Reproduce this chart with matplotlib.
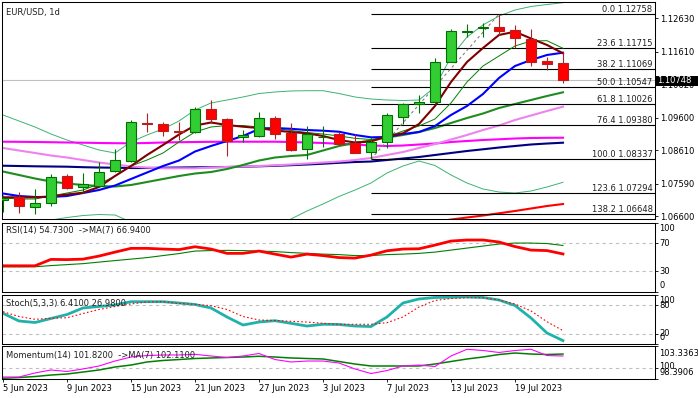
import numpy as np
import matplotlib
matplotlib.use("Agg")
import matplotlib.pyplot as plt
from matplotlib.patches import Rectangle

nan = float('nan')

# EUR/USD daily candles, 5 Jun - 24 Jul 2023
opens = [1.07088, 1.07171, 1.06884, 1.06988, 1.07820, 1.07494, 1.07524, 1.07973, 1.08287, 1.09446,
         1.09397, 1.09208, 1.09153, 1.09855, 1.09550, 1.09019, 1.09049, 1.09589, 1.09123, 1.08653,
         1.09010, 1.09101, 1.08836, 1.08561, 1.08848, 1.09611, 1.10007, 1.10068, 1.11306, 1.12203,
         1.12325, 1.12356, 1.12273, 1.11999, 1.11328, 1.11276]
highs = [1.07241, 1.07323, 1.07424, 1.07872, 1.07872, 1.07903, 1.08256, 1.08635, 1.09528, 1.09733,
         1.09476, 1.09476, 1.09934, 1.10138, 1.09580, 1.09223, 1.09772, 1.09650, 1.09446, 1.09345,
         1.09345, 1.09171, 1.09101, 1.09001, 1.09751, 1.10038, 1.10291, 1.11410, 1.12295, 1.12456,
         1.12487, 1.12758, 1.12426, 1.12304, 1.11459, 1.11611]
lows = [1.06722, 1.06683, 1.06661, 1.06914, 1.07424, 1.07293, 1.07494, 1.07933, 1.08256, 1.09171,
        1.09040, 1.08918, 1.09123, 1.09446, 1.08430, 1.08866, 1.09001, 1.08949, 1.08592, 1.08348,
        1.08696, 1.08766, 1.08513, 1.08337, 1.08665, 1.09406, 1.09751, 1.10038, 1.11300, 1.12051,
        1.12051, 1.12121, 1.11715, 1.11184, 1.11053, 1.10648]
closes = [1.07149, 1.06914, 1.06988, 1.07799, 1.07463, 1.07567, 1.07933, 1.08308, 1.09458, 1.09397,
          1.09202, 1.09171, 1.09855, 1.09550, 1.08897, 1.09062, 1.09598, 1.09110, 1.08613, 1.09101,
          1.09025, 1.08787, 1.08531, 1.08866, 1.09672, 1.10007, 1.10086, 1.11288, 1.12252, 1.12252,
          1.12356, 1.12252, 1.12020, 1.11288, 1.11227, 1.10748]

date_idx = [0, 4, 8, 12, 16, 20, 24, 28, 32]
date_labels = ['5 Jun 2023', '9 Jun 2023', '15 Jun 2023', '21 Jun 2023', '27 Jun 2023',
               '3 Jul 2023', '7 Jul 2023', '13 Jul 2023', '19 Jul 2023']

# moving averages / bands on the price chart
ma_maroon = [1.07171, 1.07171, 1.07171, 1.07195, 1.07256, 1.07311, 1.07485, 1.07820, 1.08125, 1.08461,
             1.08766, 1.09086, 1.09360, 1.09452, 1.09376, 1.09324, 1.09284, 1.09208, 1.09162, 1.09122,
             1.09040, 1.08918, 1.08842, 1.08872, 1.09040, 1.09122, 1.09406, 1.09955, 1.10687, 1.11297,
             1.11724, 1.12121, 1.12221, 1.12014, 1.11816, 1.11563]
ma_blue = [1.07286, 1.07210, 1.07180, 1.07180, 1.07210, 1.07302, 1.07393, 1.07530, 1.07729, 1.07927,
           1.08125, 1.08293, 1.08567, 1.08735, 1.08888, 1.09040, 1.09254, 1.09284, 1.09260, 1.09223,
           1.09202, 1.09171, 1.09071, 1.09000, 1.09010, 1.09101, 1.09162, 1.09345, 1.09681, 1.09955,
           1.10321, 1.10809, 1.11175, 1.11358, 1.11511, 1.11581]
ma_thin_green = [1.07149, 1.07119, 1.07119, 1.07210, 1.07302, 1.07393, 1.07576, 1.07820, 1.08125, 1.08308,
                 1.08522, 1.08857, 1.09162, 1.09315, 1.09360, 1.09360, 1.09315, 1.09269, 1.09208, 1.09147,
                 1.09101, 1.09040, 1.08970, 1.08933, 1.09010, 1.09193, 1.09345, 1.09559, 1.10047, 1.10687,
                 1.11175, 1.11480, 1.11785, 1.11938, 1.11947, 1.11715]
bb_mid = [1.07957, 1.07851, 1.07744, 1.07652, 1.07591, 1.07546, 1.07515, 1.07500, 1.07546, 1.07637,
          1.07729, 1.07820, 1.07896, 1.07942, 1.08034, 1.08156, 1.08293, 1.08384, 1.08430, 1.08461,
          1.08598, 1.08735, 1.08827, 1.08903, 1.08994, 1.09071, 1.09162, 1.09284, 1.09437, 1.09589,
          1.09726, 1.09894, 1.10016, 1.10138, 1.10260, 1.10373]
bb_upper = [1.09681, 1.09498, 1.09315, 1.09101, 1.08918, 1.08766, 1.08613, 1.08522, 1.08857, 1.09071,
            1.09254, 1.09498, 1.09833, 1.10047, 1.10138, 1.10230, 1.10336, 1.10382, 1.10413, 1.10422,
            1.10422, 1.10336, 1.10230, 1.10169, 1.10138, 1.10123, 1.10138, 1.10535, 1.11450, 1.12060,
            1.12426, 1.12700, 1.12883, 1.12990, 1.13051, 1.13106]
bb_lower = [1.06234, 1.06326, 1.06417, 1.06478, 1.06554, 1.06615, 1.06646, 1.06631, 1.06417,
            nan, nan, nan, nan, nan, nan, nan, nan,
            1.06295, 1.06509, 1.06753, 1.06966, 1.07195, 1.07393, 1.07607, 1.07912, 1.08125, 1.08278,
            1.08140, 1.07851, 1.07607, 1.07424, 1.07332, 1.07302, 1.07363, 1.07485, 1.07628]
ma_violet = [1.08674, 1.08598, 1.08522, 1.08445, 1.08384, 1.08308, 1.08232, 1.08171, 1.08110, 1.08079,
             1.08055, 1.08055, 1.08055, 1.08079, 1.08095, 1.08110, 1.08125, 1.08147, 1.08171, 1.08201,
             1.08232, 1.08262, 1.08308, 1.08369, 1.08461, 1.08552, 1.08674, 1.08796, 1.08933, 1.09071,
             1.09223, 1.09360, 1.09528, 1.09665, 1.09803, 1.09934]
ma_magenta = [1.08866, 1.08863, 1.08857, 1.08851, 1.08842, 1.08836, 1.08827, 1.08821, 1.08817, 1.08827,
              1.08842, 1.08851, 1.08857, 1.08863, 1.08866, 1.08866, 1.08866, 1.08866, 1.08857, 1.08842,
              1.08827, 1.08805, 1.08781, 1.08750, 1.08735, 1.08750, 1.08781, 1.08811, 1.08857, 1.08888,
              1.08918, 1.08940, 1.08964, 1.08979, 1.08985, 1.08988]
ma_navy = [1.08134, 1.08125, 1.08116, 1.08110, 1.08104, 1.08089, 1.08079, 1.08073, 1.08064, 1.08064,
           1.08073, 1.08079, 1.08085, 1.08089, 1.08095, 1.08104, 1.08116, 1.08131, 1.08150, 1.08171,
           1.08195, 1.08223, 1.08247, 1.08262, 1.08308, 1.08354, 1.08400, 1.08461, 1.08522, 1.08583,
           1.08635, 1.08689, 1.08735, 1.08781, 1.08811, 1.08836]
ma_red = [nan] * 27 + [1.06417, 1.06493, 1.06554, 1.06615, 1.06683, 1.06753, 1.06829, 1.06905, 1.06966]

# fibonacci retracement (low 6 Jul -> high 18 Jul)
fib_pct = ['0.0', '23.6', '38.2', '50.0', '61.8', '76.4', '100.0', '123.6', '138.2']
fib_price = [1.12758, 1.11715, 1.11069, 1.10547, 1.10026, 1.09380, 1.08337, 1.07294, 1.06648]
fib_low_bar, fib_high_bar = 23, 31

price_ticks = [1.06600, 1.07590, 1.08610, 1.09600, 1.10620, 1.11610, 1.12630]

# oscillators
rsi = [37.7, 37.7, 37.7, 46.9, 46.6, 47.3, 51.7, 57.4, 62.8, 62.8, 61.8, 61.0, 65.1, 61.8, 55.6, 55.6,
       58.9, 54.5, 50.2, 54.5, 52.4, 49.5, 48.8, 53.1, 59.3, 61.8, 62.2, 67.5, 73.3, 74.8, 74.8, 71.9,
       65.4, 60.3, 59.6, 54.73]
rsi_ma = [36.2, 36.2, 36.3, 38.0, 39.4, 40.8, 43.0, 45.2, 47.3, 49.5, 52.4, 55.3, 58.9, 59.6, 59.9, 59.6,
          58.9, 58.2, 56.7, 55.6, 54.5, 53.8, 52.4, 52.4, 53.8, 54.5, 55.6, 57.4, 60.3, 63.2, 66.1, 69.0,
          70.4, 70.4, 69.7, 66.94]
stoch_k = [62.8, 46.9, 43.8, 52.1, 60.3, 73.8, 76.9, 80.0, 86.8, 86.8, 86.8, 84.1, 81.0, 73.8, 55.2, 38.6,
           44.8, 47.5, 42.1, 36.5, 40.1, 39.7, 36.5, 35.5, 55.2, 84.1, 92.4, 95.5, 95.9, 96.6, 95.5, 90.3,
           79.0, 53.1, 22.1, 6.41]
stoch_d = [66.1, 56.2, 50.4, 52.5, 53.7, 62.4, 70.7, 76.9, 82.1, 86.2, 86.8, 83.1, 81.4, 78.6, 70.7, 56.2,
           49.0, 47.9, 46.3, 44.8, 42.1, 40.1, 40.1, 40.1, 43.4, 55.2, 75.9, 89.3, 93.4, 95.1, 95.1, 90.3,
           82.1, 67.6, 45.4, 26.98]
mom = [98.73, 98.73, 99.32, 99.76, 99.54, 99.91, 100.35, 101.08, 101.67, 101.89, 101.97, 101.97, 102.07,
       101.82, 101.60, 101.82, 102.19, 101.30, 100.94, 101.08, 101.08, 100.79, 99.91, 99.24, 99.68, 100.35,
       100.49, 100.27, 101.82, 102.81, 102.63, 102.34, 102.63, 102.81, 101.89, 101.82]
mom_ma = [98.54, 98.65, 98.80, 99.02, 99.17, 99.46, 99.76, 100.20, 100.49, 100.94, 101.16, 101.30, 101.45,
          101.53, 101.60, 101.67, 101.78, 101.67, 101.53, 101.45, 101.38, 101.01, 100.64, 100.35, 100.35,
          100.35, 100.35, 100.64, 101.01, 101.38, 101.67, 102.04, 102.26, 102.11, 102.04, 102.11]
mom_lo, mom_hi = 98.3906, 103.3363

# ---------------------------------------------------------------------------
W, H = 698, 398
FS = 6
plt.rcParams['font.family'] = ['DejaVu Sans']
fig = plt.figure(figsize=(W / 100, H / 100), dpi=100)
fig.patch.set_facecolor('white')


def add_panel(top, bottom, left=1.5, right=654.5):
    ax = fig.add_axes([left / W, 1 - bottom / H, (right - left) / W, (bottom - top) / H])
    for s in ax.spines.values():
        s.set_linewidth(0.75)
        s.set_color('black')
    ax.set_xlim(-0.094, 40.72)
    ax.tick_params(axis='x', bottom=False, labelbottom=False)
    ax.yaxis.tick_right()
    ax.tick_params(axis='y', direction='out', length=2.2, width=0.6, pad=1.5, labelsize=FS)
    return ax


def right_label(ax, val, text, dy=0):
    ax.annotate(text, xy=(1, val), xycoords=('axes fraction', 'data'), xytext=(4.5, dy),
                textcoords='offset pixels', ha='left', va='center', fontsize=FS,
                annotation_clip=False)


def panel_title(ax, text, dy):
    ax.annotate(text, xy=(0, 1), xycoords='axes fraction', xytext=(5, dy),
                textcoords='offset pixels', ha='left', va='center', fontsize=FS, color='#202020')


x = np.arange(len(closes))
o, h, l, c = map(np.array, (opens, highs, lows, closes))

# ---- main price panel ----
ax = add_panel(2, 219)
ax.set_ylim(1.06509, 1.13127)
ax.set_yticks(price_ticks)
ax.set_yticklabels([f'{v:.5f}' for v in price_ticks])

ax.axhline(closes[-1], color='#C0C0C0', lw=0.8, zorder=1)

ax.plot(x, bb_upper, color='#3CB371', lw=0.7, zorder=2)
ax.plot(x, bb_lower, color='#3CB371', lw=0.7, zorder=2)
ax.plot(x, ma_red, color='#FF0000', lw=1.5, zorder=2)
ax.plot(x, ma_navy, color='#000080', lw=1.5, zorder=2)
ax.plot(x, ma_magenta, color='#FF00FF', lw=1.5, zorder=2)
ax.plot(x, ma_violet, color='#EE82EE', lw=1.5, zorder=2)
ax.plot(x, bb_mid, color='#1E8C1E', lw=1.5, zorder=2)
ax.plot(x, ma_thin_green, color='#008000', lw=0.7, zorder=3)
ax.plot(x, ma_blue, color='#0000FF', lw=1.5, zorder=3)
ax.plot(x, ma_maroon, color='#800000', lw=1.5, zorder=3)

# fibonacci
x_right = ax.get_xlim()[1]
ax.hlines(fib_price, fib_low_bar, x_right, color='black', lw=0.8, zorder=2)
ax.plot([fib_low_bar, fib_high_bar], [lows[fib_low_bar], highs[fib_high_bar]],
        color='#808080', lw=0.8, dashes=(2.5, 2.5), zorder=2)
for pct, p in zip(fib_pct, fib_price):
    ax.annotate(f'{pct} {p:.5f}', xy=(1, p), xycoords=('axes fraction', 'data'), xytext=(-2, 2),
                textcoords='offset pixels', ha='right', va='baseline', fontsize=FS, color='#202020')

# candles
up = c >= o
wick_col = np.where(up, '#007000', '#B22222')
ax.vlines(x, l, h, colors=wick_col, lw=0.8, zorder=5)
ax.bar(x, np.abs(c - o), bottom=np.minimum(o, c), width=0.66,
       color=np.where(up, '#32CD32', '#FF0000'), edgecolor=wick_col, linewidth=0.8, zorder=6)

panel_title(ax, 'EUR/USD, 1d', -10.5)

# ---- RSI ----
ax_rsi = add_panel(222.5, 292)
ax_rsi.set_ylim(0, 100)
ax_rsi.set_yticks([0, 30, 70, 100])
ax_rsi.set_yticklabels([])
for lev in (30, 70):
    ax_rsi.axhline(lev, color='#C0C0C0', lw=0.8, ls=(0, (3, 3)))
ax_rsi.plot(x, rsi_ma, color='#008000', lw=0.8)
ax_rsi.plot(x, rsi, color='#FF0000', lw=2)
right_label(ax_rsi, 100, '100', -6)
right_label(ax_rsi, 70, '70')
right_label(ax_rsi, 30, '30')
right_label(ax_rsi, 0, '0', 6)
panel_title(ax_rsi, f'RSI(14) {rsi[-1]:.4f}  ->MA(7) {rsi_ma[-1]:.4f}', -8.5)

# ---- Stochastic ----
ax_st = add_panel(295.3, 343.7)
ax_st.set_ylim(0, 100)
ax_st.set_yticks([0, 20, 80, 100])
ax_st.set_yticklabels([])
for lev in (20, 80):
    ax_st.axhline(lev, color='#C0C0C0', lw=0.8, ls=(0, (3, 3)))
ax_st.plot(x, stoch_k, color='#20B2AA', lw=2)
ax_st.plot(x, stoch_d, color='#FF0000', lw=0.8, ls=(0, (1.5, 2)))
right_label(ax_st, 100, '100', -5)
right_label(ax_st, 80, '80', -1)
right_label(ax_st, 20, '20', 1)
right_label(ax_st, 0, '0', 6)
panel_title(ax_st, f'Stoch(5,3,3) {stoch_k[-1]:.4f} {stoch_d[-1]:.4f}', -8)

# ---- Momentum ----
ax_m = add_panel(345.7, 379.3)
ax_m.set_ylim(mom_lo, mom_hi)
ax_m.set_yticks([mom_lo, 100, mom_hi])
ax_m.set_yticklabels([])
ax_m.axhline(100, color='#C0C0C0', lw=0.8, ls=(0, (3, 3)))
ax_m.plot(x, mom_ma, color='#008000', lw=1.1)
ax_m.plot(x, mom, color='#FF00FF', lw=0.8)
right_label(ax_m, mom_hi, f'{mom_hi:.4f}', -7.5)
right_label(ax_m, 100, '100', 2)
right_label(ax_m, mom_lo, f'{mom_lo:.4f}', 6.5)
panel_title(ax_m, f'Momentum(14) {mom[-1]:.4f}  ->MA(7) {mom_ma[-1]:.4f}', -9.5)

ax_m.set_xticks(date_idx)
ax_m.tick_params(axis='x', bottom=True, direction='out', length=2.5, width=0.6)
for i, lab in zip(date_idx, date_labels):
    ax_m.annotate(lab, xy=(i, 0), xycoords=('data', 'axes fraction'), xytext=(0, -9),
                  textcoords='offset pixels', ha='left', va='center', fontsize=FS,
                  annotation_clip=False)

# current price tag on the price scale
fig.patches.append(Rectangle((655 / W, 1 - 85.5 / H), 43 / W, 10 / H, transform=fig.transFigure,
                             facecolor='black', edgecolor='none', zorder=10))
fig.text(657 / W, 1 - 80.5 / H, f'{closes[-1]:.5f}', color='white', fontsize=FS,
         ha='left', va='center', zorder=11)

fig.savefig('out.png', dpi=100)
